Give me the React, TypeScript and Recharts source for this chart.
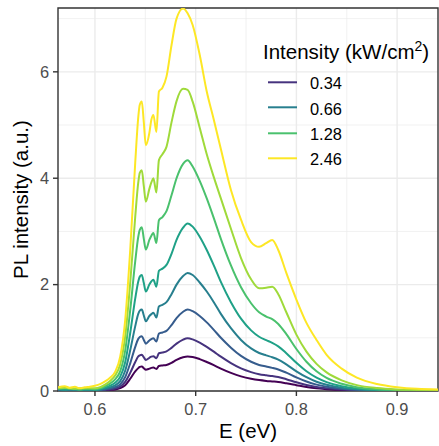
import { CartesianGrid, Legend, Line, LineChart, ReferenceArea, XAxis, YAxis } from "recharts"

const FONT = "'Liberation Sans', Arial, sans-serif"

// photon energy (eV)
const energy = [
    0.5635, 0.570, 0.575, 0.580, 0.585, 0.590, 0.595, 0.600, 0.605, 0.610,
    0.615, 0.620, 0.625, 0.630, 0.635, 0.640, 0.643, 0.6445, 0.6465, 0.6485,
    0.6505, 0.654, 0.656, 0.658, 0.661, 0.6635, 0.667, 0.671, 0.676, 0.681,
    0.6875, 0.692, 0.697, 0.704, 0.711, 0.718, 0.725, 0.735, 0.745, 0.755,
    0.763, 0.770, 0.776, 0.782, 0.790, 0.800, 0.810, 0.820, 0.830, 0.845,
    0.860, 0.880, 0.900, 0.920, 0.9406,
]

// PL spectra, lowest to highest excitation intensity
const pl1 = [
    0.01, 0.02, 0.01, 0.01, 0.02, 0.01, 0.01, 0.01, 0.01, 0.015,
    0.02, 0.03, 0.055, 0.11, 0.23, 0.37, 0.43, 0.453, 0.46, 0.428,
    0.40, 0.42, 0.435, 0.44, 0.415, 0.47, 0.48, 0.49, 0.53, 0.585,
    0.635, 0.65, 0.64, 0.60, 0.545, 0.485, 0.42, 0.34, 0.275, 0.23,
    0.205, 0.19, 0.18, 0.17, 0.145, 0.11, 0.075, 0.05, 0.035, 0.018,
    0.01, 0.005, 0.003, 0.002, 0.001,
]
const pl2 = [
    0.02, 0.01, 0.02, 0.01, 0.01, 0.02, 0.01, 0.01, 0.012, 0.02,
    0.03, 0.047, 0.082, 0.17, 0.34, 0.545, 0.65, 0.67, 0.68, 0.632,
    0.585, 0.625, 0.645, 0.655, 0.615, 0.71, 0.725, 0.745, 0.81, 0.89,
    0.965, 0.99, 0.97, 0.91, 0.83, 0.74, 0.645, 0.525, 0.425, 0.355,
    0.315, 0.295, 0.28, 0.262, 0.222, 0.163, 0.114, 0.077, 0.051, 0.028,
    0.015, 0.007, 0.004, 0.002, 0.001,
]
const pl3 = [
    0.02, 0.01, 0.01, 0.02, 0.01, 0.01, 0.01, 0.012, 0.016, 0.03,
    0.047, 0.073, 0.125, 0.26, 0.52, 0.83, 0.98, 1.015, 1.03, 0.958,
    0.89, 0.95, 0.975, 0.99, 0.93, 1.08, 1.10, 1.13, 1.24, 1.37,
    1.49, 1.53, 1.50, 1.41, 1.29, 1.15, 1.00, 0.815, 0.66, 0.55,
    0.49, 0.46, 0.435, 0.405, 0.345, 0.255, 0.178, 0.12, 0.08, 0.043,
    0.023, 0.011, 0.006, 0.003, 0.002,
]
const pl4 = [
    0.03, 0.02, 0.02, 0.03, 0.02, 0.02, 0.02, 0.018, 0.025, 0.045,
    0.07, 0.107, 0.185, 0.38, 0.765, 1.22, 1.45, 1.51, 1.53, 1.42,
    1.31, 1.41, 1.445, 1.47, 1.38, 1.59, 1.62, 1.67, 1.82, 2.00,
    2.16, 2.22, 2.18, 2.04, 1.87, 1.67, 1.45, 1.18, 0.96, 0.80,
    0.715, 0.67, 0.635, 0.59, 0.50, 0.37, 0.26, 0.175, 0.117, 0.063,
    0.034, 0.016, 0.009, 0.005, 0.003,
]
const pl5 = [
    0.04, 0.03, 0.04, 0.03, 0.03, 0.03, 0.03, 0.025, 0.035, 0.065,
    0.10, 0.155, 0.265, 0.54, 1.09, 1.74, 2.06, 2.15, 2.18, 2.03,
    1.87, 2.00, 2.06, 2.09, 1.96, 2.26, 2.30, 2.37, 2.58, 2.84,
    3.07, 3.15, 3.09, 2.90, 2.65, 2.36, 2.05, 1.67, 1.36, 1.14,
    1.02, 0.955, 0.905, 0.84, 0.71, 0.53, 0.37, 0.25, 0.167, 0.09,
    0.048, 0.023, 0.012, 0.007, 0.004,
]
const pl6 = [
    0.04, 0.05, 0.04, 0.04, 0.03, 0.04, 0.04, 0.035, 0.05, 0.09,
    0.14, 0.22, 0.37, 0.76, 1.52, 2.44, 2.90, 3.03, 3.08, 2.86,
    2.66, 2.84, 2.92, 2.97, 2.78, 3.21, 3.27, 3.38, 3.68, 4.00,
    4.27, 4.34, 4.22, 3.95, 3.62, 3.25, 2.86, 2.36, 1.95, 1.65,
    1.48, 1.40, 1.35, 1.26, 1.07, 0.79, 0.55, 0.37, 0.245, 0.135,
    0.07, 0.033, 0.018, 0.01, 0.006,
]
const pl7 = [
    0.05, 0.06, 0.05, 0.04, 0.05, 0.05, 0.05, 0.05, 0.07, 0.12,
    0.19, 0.29, 0.50, 1.02, 2.03, 3.28, 3.92, 4.10, 4.15, 3.85,
    3.56, 3.80, 3.92, 4.00, 3.73, 4.34, 4.45, 4.59, 5.05, 5.45,
    5.68, 5.66, 5.44, 4.95, 4.45, 4.02, 3.62, 3.05, 2.50, 2.10,
    1.93, 1.94, 1.96, 1.82, 1.48, 1.06, 0.74, 0.51, 0.35, 0.20,
    0.11, 0.055, 0.03, 0.02, 0.01,
]
const pl8 = [
    0.07, 0.09, 0.06, 0.08, 0.05, 0.07, 0.08, 0.10, 0.13, 0.18,
    0.25, 0.36, 0.64, 1.33, 2.65, 4.30, 5.15, 5.38, 5.44, 5.05,
    4.62, 4.85, 5.10, 5.19, 4.87, 5.63, 5.70, 5.91, 6.50, 7.00,
    7.19, 7.10, 6.88, 6.32, 5.63, 5.10, 4.55, 3.78, 3.22, 2.80,
    2.71, 2.78, 2.84, 2.65, 2.22, 1.72, 1.28, 0.96, 0.68, 0.42,
    0.25, 0.13, 0.07, 0.04, 0.03,
]

const spectra = [pl1, pl2, pl3, pl4, pl5, pl6, pl7, pl8]
const seriesKeys = ["pl1", "pl2", "pl3", "pl4", "pl5", "pl6", "pl7", "pl8"]
const colors = ["#440154", "#46337E", "#365C8D", "#277F8E", "#1FA187", "#4AC16D", "#9FDA3A", "#FDE725"]

// legend only lists every other spectrum
const legendLabels = ["0.34", "0.66", "1.28", "2.46"]
const legendColors = ["#46337E", "#277F8E", "#4AC16D", "#FDE725"]

const xTicks = [0.6, 0.7, 0.8, 0.9]
const xMinor = [0.65, 0.75, 0.85]
const yTicks = [0, 2, 4, 6]
const yMinor = [1, 3, 5, 7]
const xDomain = [0.5633, 0.9406]
const yDomain = [0, 7.2]

const rows = energy.map((e, i) => {
    const row: Record<string, number> = { e }
    seriesKeys.forEach((k, j) => {
        row[k] = spectra[j][i]
    })
    return row
})

const IntensityLegend = () => (
    <div style={{ fontFamily: FONT, color: "#000" }}>
        <div style={{ position: "absolute", left: 263, top: 40, fontSize: 20.5, lineHeight: "24px", whiteSpace: "nowrap" }}>
            Intensity (kW/cm<span style={{ fontSize: 14, position: "relative", top: -8 }}>2</span>)
        </div>
        {legendLabels.map((lab, i) => (
            <div key={lab}>
                <svg style={{ position: "absolute", left: 268, top: 72 + i * 25.4, overflow: "visible" }} width={30} height={20}>
                    <line x1={0} x2={29} y1={10.3} y2={10.3} stroke={legendColors[i]} strokeWidth={2} />
                </svg>
                <div style={{ position: "absolute", left: 310, top: 73.3 + i * 25.3, fontSize: 16.4, lineHeight: "20px", whiteSpace: "nowrap" }}>
                    {lab}
                </div>
            </div>
        ))}
    </div>
)

const tickStyle = { fontFamily: FONT, fontSize: 16.4, fill: "#4D4D4D" }

const xTitle = () => (
    <text x={248} y={438} textAnchor="middle" fontFamily={FONT} fontSize={20.5} fill="#000">
        E (eV)
    </text>
)

const yTitle = () => (
    <text x={28} y={199.5} transform="rotate(-90, 28, 199.5)" textAnchor="middle" fontFamily={FONT} fontSize={20.5} fill="#000">
        PL intensity (a.u.)
    </text>
)

export default function App() {
    return (
        <div style={{ position: "absolute", left: 0, top: 0, background: "#fff" }}>
            <LineChart width={439} height={446} data={rows} margin={{ top: 8, right: 1, bottom: 0, left: 0 }}>
                <CartesianGrid stroke="#EBEBEB" strokeWidth={0.7} horizontalValues={yMinor} verticalValues={xMinor} />
                <CartesianGrid stroke="#EBEBEB" strokeWidth={1.4} horizontalValues={yTicks} verticalValues={xTicks} />
                <XAxis
                    dataKey="e"
                    type="number"
                    domain={xDomain}
                    ticks={xTicks}
                    allowDataOverflow
                    height={55}
                    tickFormatter={(v: number) => v.toFixed(1)}
                    tick={tickStyle}
                    tickSize={5}
                    tickMargin={7}
                    axisLine={false}
                    tickLine={{ stroke: "#333333", strokeWidth: 1.4 }}
                    label={xTitle}
                />
                <YAxis
                    type="number"
                    domain={yDomain}
                    ticks={yTicks}
                    allowDataOverflow
                    width={58}
                    tick={tickStyle}
                    tickSize={5}
                    tickMargin={4}
                    axisLine={false}
                    tickLine={{ stroke: "#333333", strokeWidth: 1.4 }}
                    label={yTitle}
                />
                {seriesKeys.map((k, i) => (
                    <Line key={k} dataKey={k} type="monotone" stroke={colors[i]} strokeWidth={2} dot={false} isAnimationActive={false} />
                ))}
                <ReferenceArea x1={xDomain[0]} x2={xDomain[1]} y1={yDomain[0]} y2={yDomain[1]} fill="none" stroke="#333333" strokeWidth={1.4} ifOverflow="visible" />
                <Legend
                    layout="horizontal"
                    verticalAlign="middle"
                    align="center"
                    content={() => <IntensityLegend />}
                    wrapperStyle={{ left: 0, top: 0, width: 0, height: 0 }}
                />
            </LineChart>
        </div>
    )
}
